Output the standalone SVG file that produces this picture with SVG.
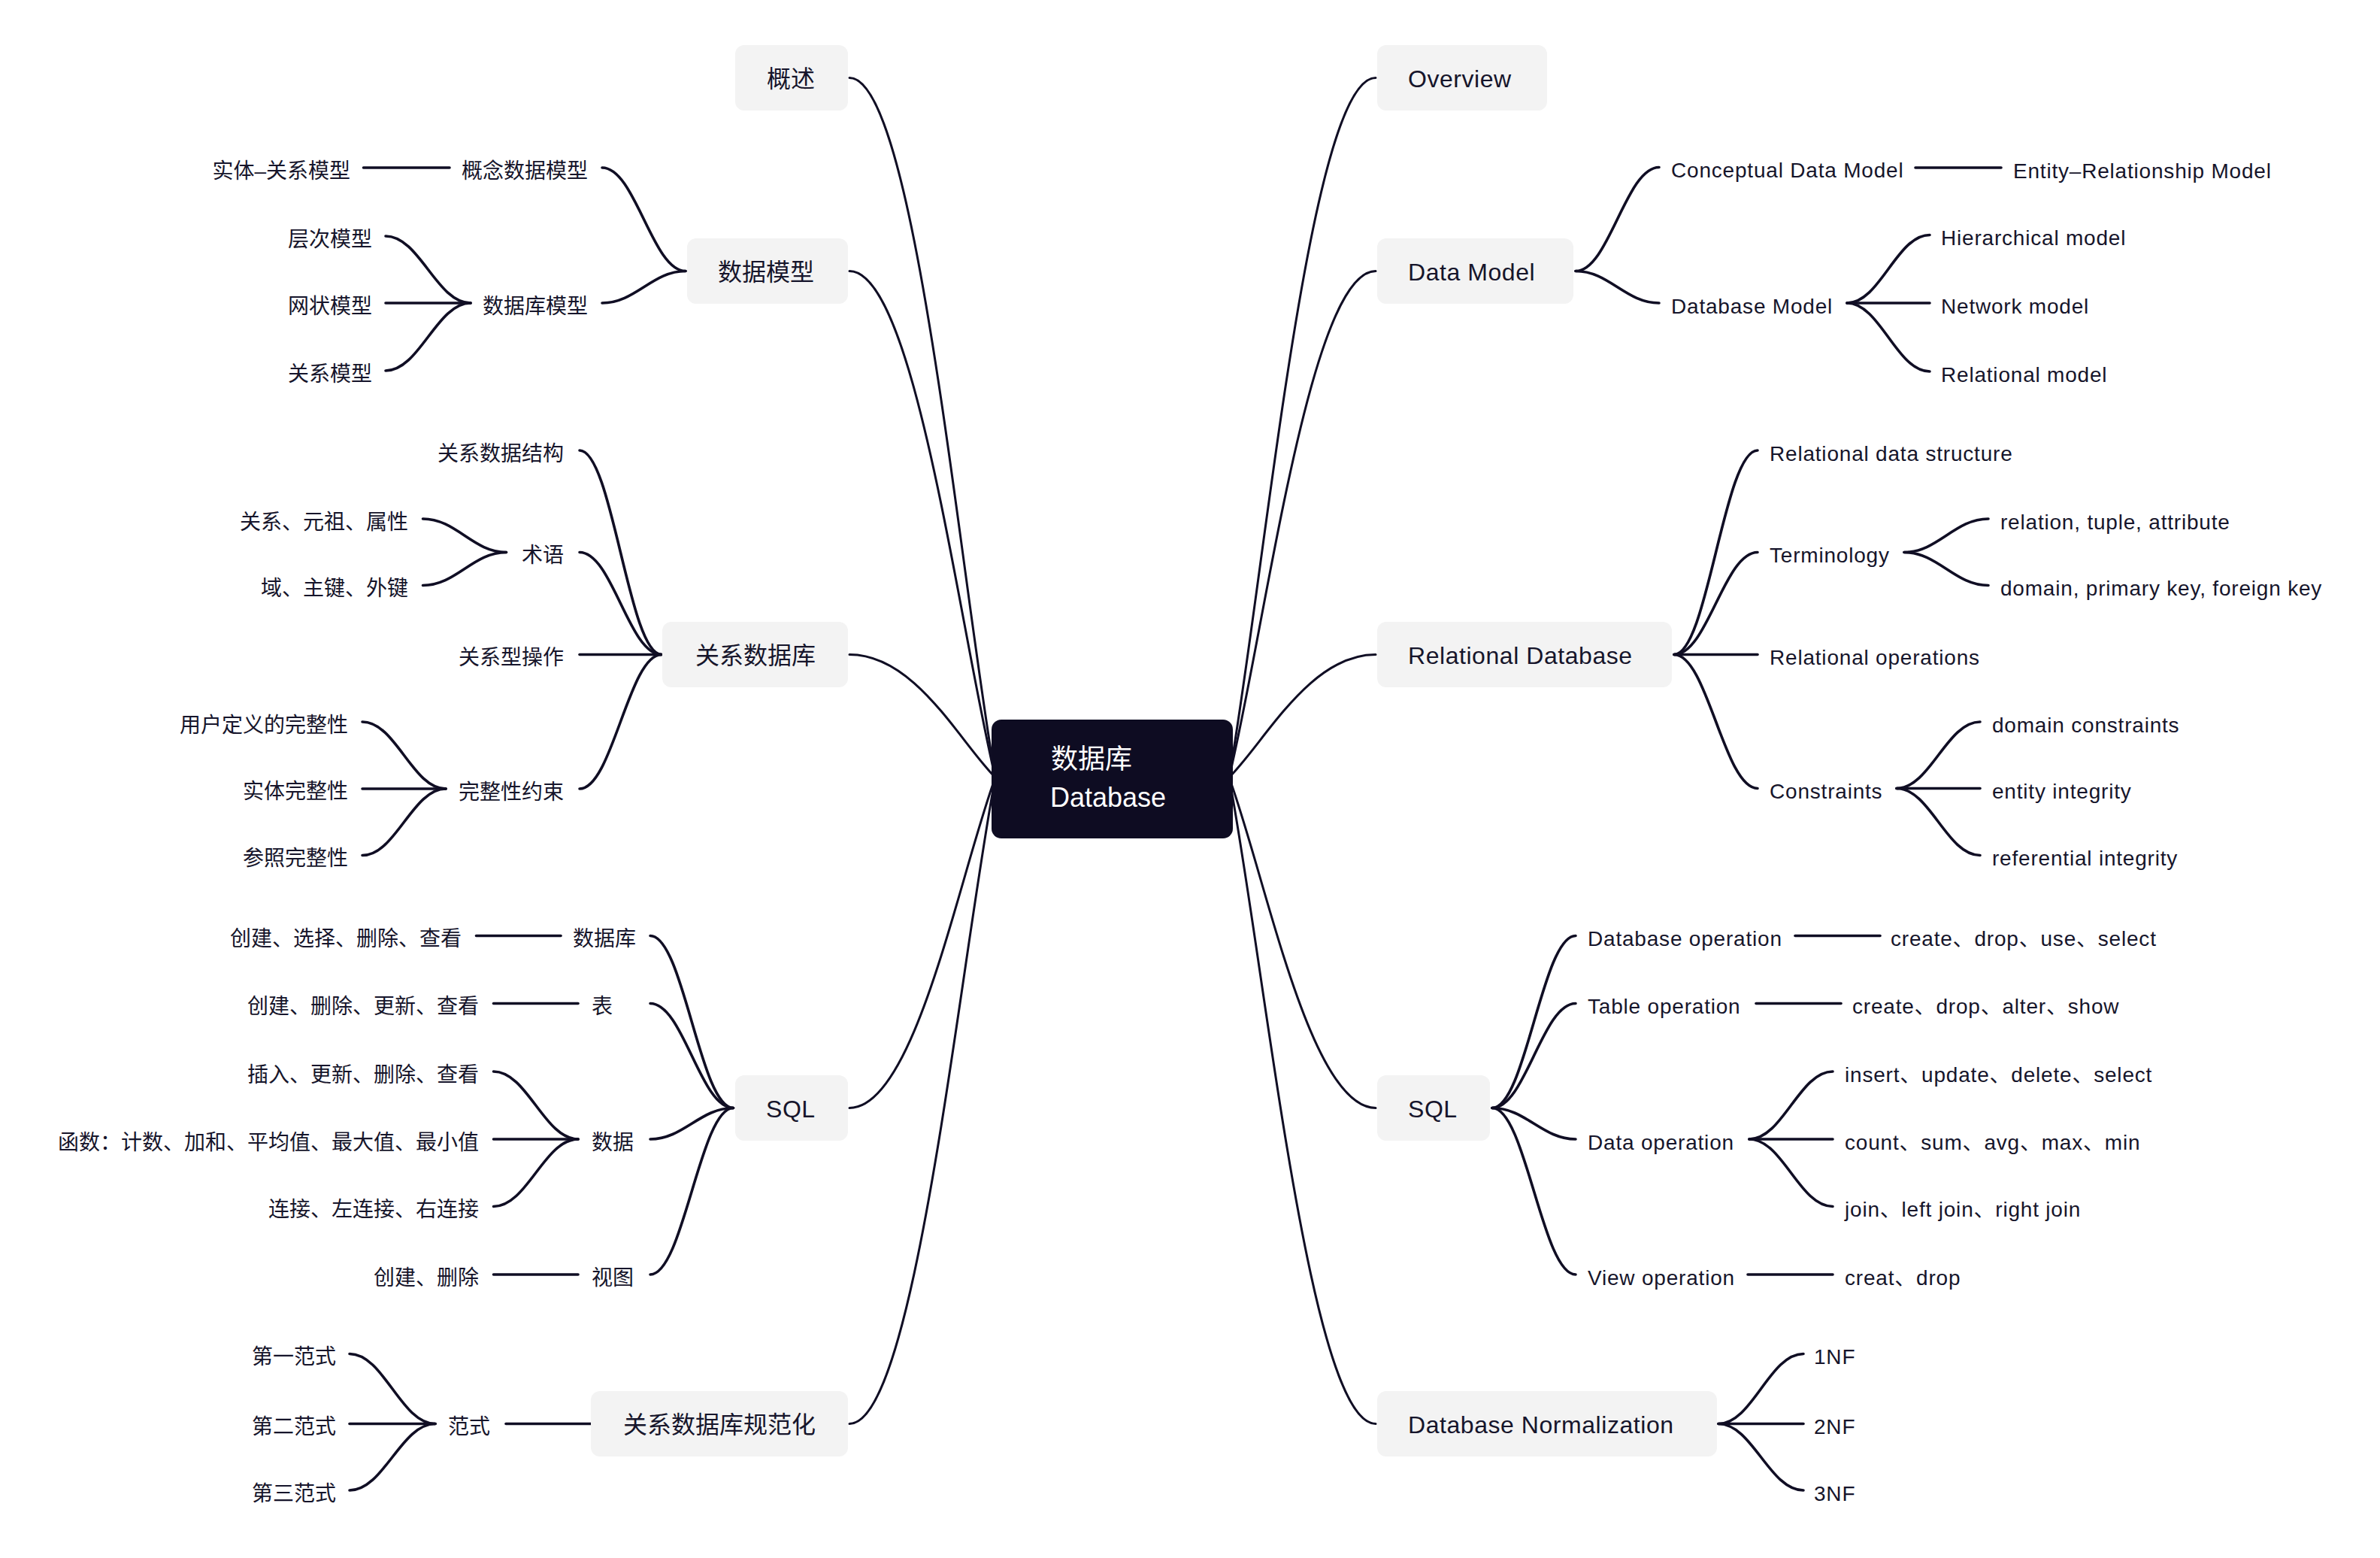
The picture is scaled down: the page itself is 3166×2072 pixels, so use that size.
<svg xmlns="http://www.w3.org/2000/svg" width="3166" height="2072" viewBox="0 0 3166 2072">
<style>
.c1{fill:none;stroke:#100e24;stroke-width:3;stroke-linecap:round}
.c2{fill:none;stroke:#100e24;stroke-width:3.6;stroke-linecap:round}
.box{fill:#f3f3f3}
text{font-family:"Liberation Sans","Noto Sans CJK SC",sans-serif;fill:#16152b}
.t1{font-size:32px}
.t2{font-size:28px}
.en{letter-spacing:0.55px}
.t2.en{letter-spacing:0.8px}
.r{text-anchor:end}
.ct{font-size:36px;fill:#ffffff}
</style>
<rect width="3166" height="2072" fill="#ffffff"/>
<g id="connectors">
<path class="c1" d="M1635 1034 C1683.75 754.85 1742.25 103.5 1830 103.5"/>
<path class="c1" d="M1635 1034 C1683.75 831.95 1742.25 360.5 1830 360.5"/>
<path class="c1" d="M1635 1034 C1683.75 984.95 1742.25 870.5 1830 870.5"/>
<path class="c1" d="M1635 1034 C1683.75 1165.85 1742.25 1473.5 1830 1473.5"/>
<path class="c1" d="M1635 1034 C1683.75 1291.85 1742.25 1893.5 1830 1893.5"/>
<path class="c1" d="M1324 1034 C1275.5 754.85 1217.3 103.5 1130 103.5"/>
<path class="c1" d="M1324 1034 C1275.5 831.95 1217.3 360.5 1130 360.5"/>
<path class="c1" d="M1324 1034 C1275.5 984.95 1217.3 870.5 1130 870.5"/>
<path class="c1" d="M1324 1034 C1275.5 1165.85 1217.3 1473.5 1130 1473.5"/>
<path class="c1" d="M1324 1034 C1275.5 1291.85 1217.3 1893.5 1130 1893.5"/>
<path class="c2" d="M2096 360.5 C2140.4 360.5 2162.6 222.5 2207 222.5"/>
<path class="c2" d="M2096 360.5 C2140.4 360.5 2162.6 403 2207 403"/>
<path class="c2" d="M2548 223 H2662"/>
<path class="c2" d="M2457 403 C2501 403 2523 312.5 2567 312.5"/>
<path class="c2" d="M2457 403 H2567"/>
<path class="c2" d="M2457 403 C2501 403 2523 494 2567 494"/>
<path class="c2" d="M2227 870.5 C2271.4 870.5 2293.6 599 2338 599"/>
<path class="c2" d="M2227 870.5 C2271.4 870.5 2293.6 734.5 2338 734.5"/>
<path class="c2" d="M2227 870.5 H2338"/>
<path class="c2" d="M2227 870.5 C2271.4 870.5 2293.6 1048.5 2338 1048.5"/>
<path class="c2" d="M2533 734.5 C2577.8 734.5 2600.2 690 2645 690"/>
<path class="c2" d="M2533 734.5 C2577.8 734.5 2600.2 778.5 2645 778.5"/>
<path class="c2" d="M2523 1048.5 C2567.4 1048.5 2589.6 960 2634 960"/>
<path class="c2" d="M2523 1048.5 H2634"/>
<path class="c2" d="M2523 1048.5 C2567.4 1048.5 2589.6 1137.5 2634 1137.5"/>
<path class="c2" d="M1985 1473.5 C2029.4 1473.5 2051.6 1244.5 2096 1244.5"/>
<path class="c2" d="M1985 1473.5 C2029.4 1473.5 2051.6 1334.5 2096 1334.5"/>
<path class="c2" d="M1985 1473.5 C2029.4 1473.5 2051.6 1515 2096 1515"/>
<path class="c2" d="M1985 1473.5 C2029.4 1473.5 2051.6 1695 2096 1695"/>
<path class="c2" d="M2388 1244.5 H2501"/>
<path class="c2" d="M2336 1334.5 H2449"/>
<path class="c2" d="M2327 1515 C2371.4 1515 2393.6 1425 2438 1425"/>
<path class="c2" d="M2327 1515 H2438"/>
<path class="c2" d="M2327 1515 C2371.4 1515 2393.6 1604.5 2438 1604.5"/>
<path class="c2" d="M2325 1695 H2438"/>
<path class="c2" d="M2286 1893.5 C2331.2 1893.5 2353.8 1800.5 2399 1800.5"/>
<path class="c2" d="M2286 1893.5 H2399"/>
<path class="c2" d="M2286 1893.5 C2331.2 1893.5 2353.8 1982 2399 1982"/>
<path class="c2" d="M912 360.5 C867.6 360.5 845.4 223 801 223"/>
<path class="c2" d="M912 360.5 C867.6 360.5 845.4 403 801 403"/>
<path class="c2" d="M598 223 H483.5"/>
<path class="c2" d="M626 403 C580.8 403 558.2 314 513 314"/>
<path class="c2" d="M626 403 H513"/>
<path class="c2" d="M626 403 C580.8 403 558.2 493 513 493"/>
<path class="c2" d="M880 870.5 C836.4 870.5 814.6 599 771 599"/>
<path class="c2" d="M880 870.5 C836.4 870.5 814.6 734.5 771 734.5"/>
<path class="c2" d="M880 870.5 H771"/>
<path class="c2" d="M880 870.5 C836.4 870.5 814.6 1049 771 1049"/>
<path class="c2" d="M673.5 734.5 C629.1 734.5 606.9 690 562.5 690"/>
<path class="c2" d="M673.5 734.5 C629.1 734.5 606.9 778.5 562.5 778.5"/>
<path class="c2" d="M593 1049 C548.6 1049 526.4 960 482 960"/>
<path class="c2" d="M593 1049 H482"/>
<path class="c2" d="M593 1049 C548.6 1049 526.4 1137.5 482 1137.5"/>
<path class="c2" d="M975.5 1473.5 C931.3 1473.5 909.2 1244.5 865 1244.5"/>
<path class="c2" d="M975.5 1473.5 C931.3 1473.5 909.2 1334.5 865 1334.5"/>
<path class="c2" d="M975.5 1473.5 C931.3 1473.5 909.2 1515 865 1515"/>
<path class="c2" d="M975.5 1473.5 C931.3 1473.5 909.2 1695 865 1695"/>
<path class="c2" d="M746 1244.5 H633.5"/>
<path class="c2" d="M769 1334.5 H656.5"/>
<path class="c2" d="M769 1515 C724 1515 701.5 1425 656.5 1425"/>
<path class="c2" d="M769 1515 H656.5"/>
<path class="c2" d="M769 1515 C724 1515 701.5 1604.5 656.5 1604.5"/>
<path class="c2" d="M769 1695 H656.5"/>
<path class="c2" d="M786 1893.5 H673"/>
<path class="c2" d="M579 1893.5 C533.4 1893.5 510.6 1800.5 465 1800.5"/>
<path class="c2" d="M579 1893.5 H465"/>
<path class="c2" d="M579 1893.5 C533.4 1893.5 510.6 1982 465 1982"/>
</g>
<g id="center">
<rect x="1319" y="957" width="321" height="158" rx="13" fill="#0e0c22"/>
<text class="ct" x="1398" y="1022">数据库</text>
<text class="ct" x="1397" y="1073">Database</text>
</g>
<g id="n-overview"><rect class="box" x="1832" y="60" width="226" height="87" rx="12"/><text class="t1 en" x="1873" y="115.5">Overview</text></g>
<g id="n-datamodel"><rect class="box" x="1832" y="317" width="261" height="87" rx="12"/><text class="t1 en" x="1873" y="372.5">Data Model</text></g>
<g id="n-reldb"><rect class="box" x="1832" y="827" width="392" height="87" rx="12"/><text class="t1 en" x="1873" y="882.5">Relational Database</text></g>
<g id="n-sql-en"><rect class="box" x="1832" y="1430" width="150" height="87" rx="12"/><text class="t1 en" x="1873" y="1485.5">SQL</text></g>
<g id="n-norm"><rect class="box" x="1832" y="1850" width="452" height="87" rx="12"/><text class="t1 en" x="1873" y="1905.5">Database Normalization</text></g>
<g id="n-gaishu"><rect class="box" x="978" y="60" width="150" height="87" rx="12"/><text class="t1" x="1020" y="115.5">概述</text></g>
<g id="n-shujumoxing"><rect class="box" x="914" y="317" width="214" height="87" rx="12"/><text class="t1" x="955" y="372.5">数据模型</text></g>
<g id="n-guanxishujuku"><rect class="box" x="881" y="827" width="247" height="87" rx="12"/><text class="t1" x="925" y="882.5">关系数据库</text></g>
<g id="n-sql-zh"><rect class="box" x="978" y="1430" width="150" height="87" rx="12"/><text class="t1 en" x="1019" y="1485.5">SQL</text></g>
<g id="n-guifanhua"><rect class="box" x="786" y="1850" width="342" height="87" rx="12"/><text class="t1" x="829" y="1905.5">关系数据库规范化</text></g>
<g id="n-r-sub">
<g id="n-conceptual"><text class="t2 en" x="2223" y="236">Conceptual Data Model</text></g>
<g id="n-er"><text class="t2 en" x="2678" y="236.5">Entity–Relationship Model</text></g>
<g id="n-dbmodel"><text class="t2 en" x="2223" y="416.5">Database Model</text></g>
<g id="n-hier"><text class="t2 en" x="2582" y="326">Hierarchical model</text></g>
<g id="n-net"><text class="t2 en" x="2582" y="416.5">Network model</text></g>
<g id="n-relm"><text class="t2 en" x="2582" y="507.5">Relational model</text></g>
<g id="n-rds"><text class="t2 en" x="2354" y="612.5">Relational data structure</text></g>
<g id="n-term"><text class="t2 en" x="2354" y="748">Terminology</text></g>
<g id="n-relop"><text class="t2 en" x="2354" y="884">Relational operations</text></g>
<g id="n-cons"><text class="t2 en" x="2354" y="1062">Constraints</text></g>
<g id="n-rta"><text class="t2 en" x="2661" y="703.5">relation, tuple, attribute</text></g>
<g id="n-dpf"><text class="t2 en" x="2661" y="792">domain, primary key, foreign key</text></g>
<g id="n-dc"><text class="t2 en" x="2650" y="973.5">domain constraints</text></g>
<g id="n-ei"><text class="t2 en" x="2650" y="1062">entity integrity</text></g>
<g id="n-ri"><text class="t2 en" x="2650" y="1151">referential integrity</text></g>
<g id="n-dbop"><text class="t2 en" x="2112" y="1258">Database operation</text></g>
<g id="n-dbop-c"><text class="t2 en" x="2515" y="1258">create、drop、use、select</text></g>
<g id="n-tbop"><text class="t2 en" x="2112" y="1348">Table operation</text></g>
<g id="n-tbop-c"><text class="t2 en" x="2464" y="1348">create、drop、alter、show</text></g>
<g id="n-dataop"><text class="t2 en" x="2112" y="1528.5">Data operation</text></g>
<g id="n-iuds"><text class="t2 en" x="2454" y="1438.5">insert、update、delete、select</text></g>
<g id="n-csam"><text class="t2 en" x="2454" y="1528.5">count、sum、avg、max、min</text></g>
<g id="n-join"><text class="t2 en" x="2454" y="1618">join、left join、right join</text></g>
<g id="n-viewop"><text class="t2 en" x="2112" y="1708.5">View operation</text></g>
<g id="n-viewop-c"><text class="t2 en" x="2454" y="1708.5">creat、drop</text></g>
<g id="n-1nf"><text class="t2 en" x="2413" y="1814">1NF</text></g>
<g id="n-2nf"><text class="t2 en" x="2413" y="1907">2NF</text></g>
<g id="n-3nf"><text class="t2 en" x="2413" y="1995.5">3NF</text></g>
</g>
<g id="n-l-sub">
<g id="n-gainian"><text class="t2 r" x="782" y="236.5">概念数据模型</text></g>
<g id="n-shiti"><text class="t2 r" x="466" y="236.5">实体–关系模型</text></g>
<g id="n-sjkmx"><text class="t2 r" x="782" y="416.5">数据库模型</text></g>
<g id="n-cengci"><text class="t2 r" x="495" y="327.5">层次模型</text></g>
<g id="n-wangzhuang"><text class="t2 r" x="495" y="416.5">网状模型</text></g>
<g id="n-gxmx"><text class="t2 r" x="495" y="507">关系模型</text></g>
<g id="n-gxsjjg"><text class="t2 r" x="750" y="612.5">关系数据结构</text></g>
<g id="n-shuyu"><text class="t2 r" x="750" y="748">术语</text></g>
<g id="n-gxxcz"><text class="t2 r" x="750" y="884">关系型操作</text></g>
<g id="n-wzxys"><text class="t2 r" x="750" y="1062.5">完整性约束</text></g>
<g id="n-gxyzsx"><text class="t2 r" x="543" y="703.5">关系、元祖、属性</text></g>
<g id="n-yzjwj"><text class="t2 r" x="543" y="792">域、主键、外键</text></g>
<g id="n-yhdy"><text class="t2 r" x="463" y="973.5">用户定义的完整性</text></g>
<g id="n-stwz"><text class="t2 r" x="463" y="1062">实体完整性</text></g>
<g id="n-czwz"><text class="t2 r" x="463" y="1151">参照完整性</text></g>
<g id="n-sjk"><text class="t2" x="762" y="1258">数据库</text></g>
<g id="n-sjk-c"><text class="t2 r" x="614" y="1258">创建、选择、删除、查看</text></g>
<g id="n-biao"><text class="t2" x="787" y="1348">表</text></g>
<g id="n-biao-c"><text class="t2 r" x="637" y="1348">创建、删除、更新、查看</text></g>
<g id="n-shuju"><text class="t2" x="787" y="1528.5">数据</text></g>
<g id="n-crgx"><text class="t2 r" x="637" y="1438.5">插入、更新、删除、查看</text></g>
<g id="n-hanshu"><text class="t2 r" x="637" y="1528.5">函数：计数、加和、平均值、最大值、最小值</text></g>
<g id="n-lianjie"><text class="t2 r" x="637" y="1618">连接、左连接、右连接</text></g>
<g id="n-shitu"><text class="t2" x="787" y="1708.5">视图</text></g>
<g id="n-shitu-c"><text class="t2 r" x="637" y="1708.5">创建、删除</text></g>
<g id="n-fanshi"><text class="t2" x="596" y="1907">范式</text></g>
<g id="n-1fs"><text class="t2 r" x="447" y="1814">第一范式</text></g>
<g id="n-2fs"><text class="t2 r" x="447" y="1907">第二范式</text></g>
<g id="n-3fs"><text class="t2 r" x="447" y="1995.5">第三范式</text></g>
</g>
</svg>
